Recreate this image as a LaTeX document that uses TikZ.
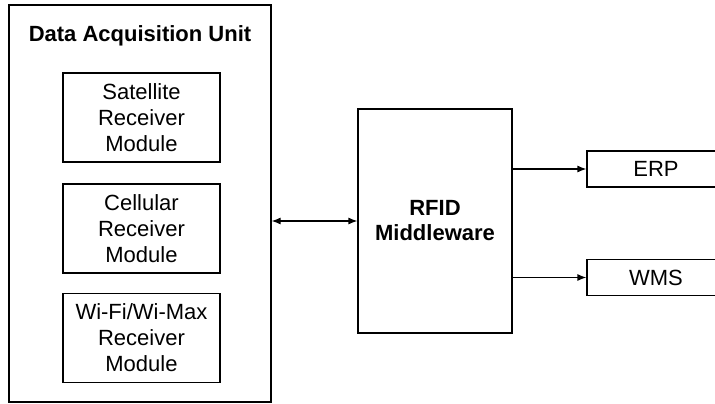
\documentclass[tikz,border=0pt]{standalone}
\usepackage{fontspec}
\setmainfont{Liberation Sans}
\usepackage{tikz}
\usetikzlibrary{arrows.meta, positioning}
\tikzset{
	every node/.style={
		font=\fontsize{22}{26}\selectfont
	},
	unit/.style={
		shape=rectangle,
		minimum width=262pt,
		minimum height=397pt,
		line width=1.2pt,
		draw
	},
	module/.style={
		shape=rectangle,
		minimum width=157pt,
		minimum height=89pt,
		align=center,
		line width=1.2pt,
		draw
	},
	middleware/.style={
		shape=rectangle,
		minimum width=154pt,
		minimum height=224pt,
		align=center,
		font=\fontsize{22}{25}\selectfont\bfseries,
		line width=1.2pt,
		draw
	},
	system/.style={
		shape=rectangle,
		minimum width=138pt,
		minimum height=36pt,
		line width=1.2pt,
		draw
	},
	link/.style={
		line width=1.2pt,
		-{Latex[length=9pt,width=7pt]}
	}
}

\begin{document}
\begin{tikzpicture}[x=1pt,y=-1pt]
	
	\useasboundingbox (0,0) rectangle (715,404);
	
	% data acquisition unit
	\node[unit] (dau) at (140,203.5) {};
	\node[font=\fontsize{22}{26}\selectfont\bfseries] (dautitle) at (140,36) {Data Acquisition Unit};
	
	\node[module] (sat) at (141.5,117.5) {Satellite\\Receiver\\Module};
	\node[module] (cell) at (141.5,228.5) {Cellular\\Receiver\\Module};
	\node[module] (wifi) at (141.5,338) {Wi-Fi/Wi-Max\\Receiver\\Module};
	
	% middleware and back end
	\node[middleware] (mw) at (435,221) {RFID\\Middleware};
	\node[system] (erp) at (656,169) {ERP};
	\node[system] (wms) at (656,277.5) {WMS};
	
	\draw[link, {Latex[length=9pt,width=7pt]}-{Latex[length=9pt,width=7pt]}] (dau.east |- mw.west) -- (mw.west);
	\draw[link] (mw.east |- erp.west) -- (erp.west);
	\draw[link] (mw.east |- wms.west) -- (wms.west);
	
\end{tikzpicture}
\end{document}
